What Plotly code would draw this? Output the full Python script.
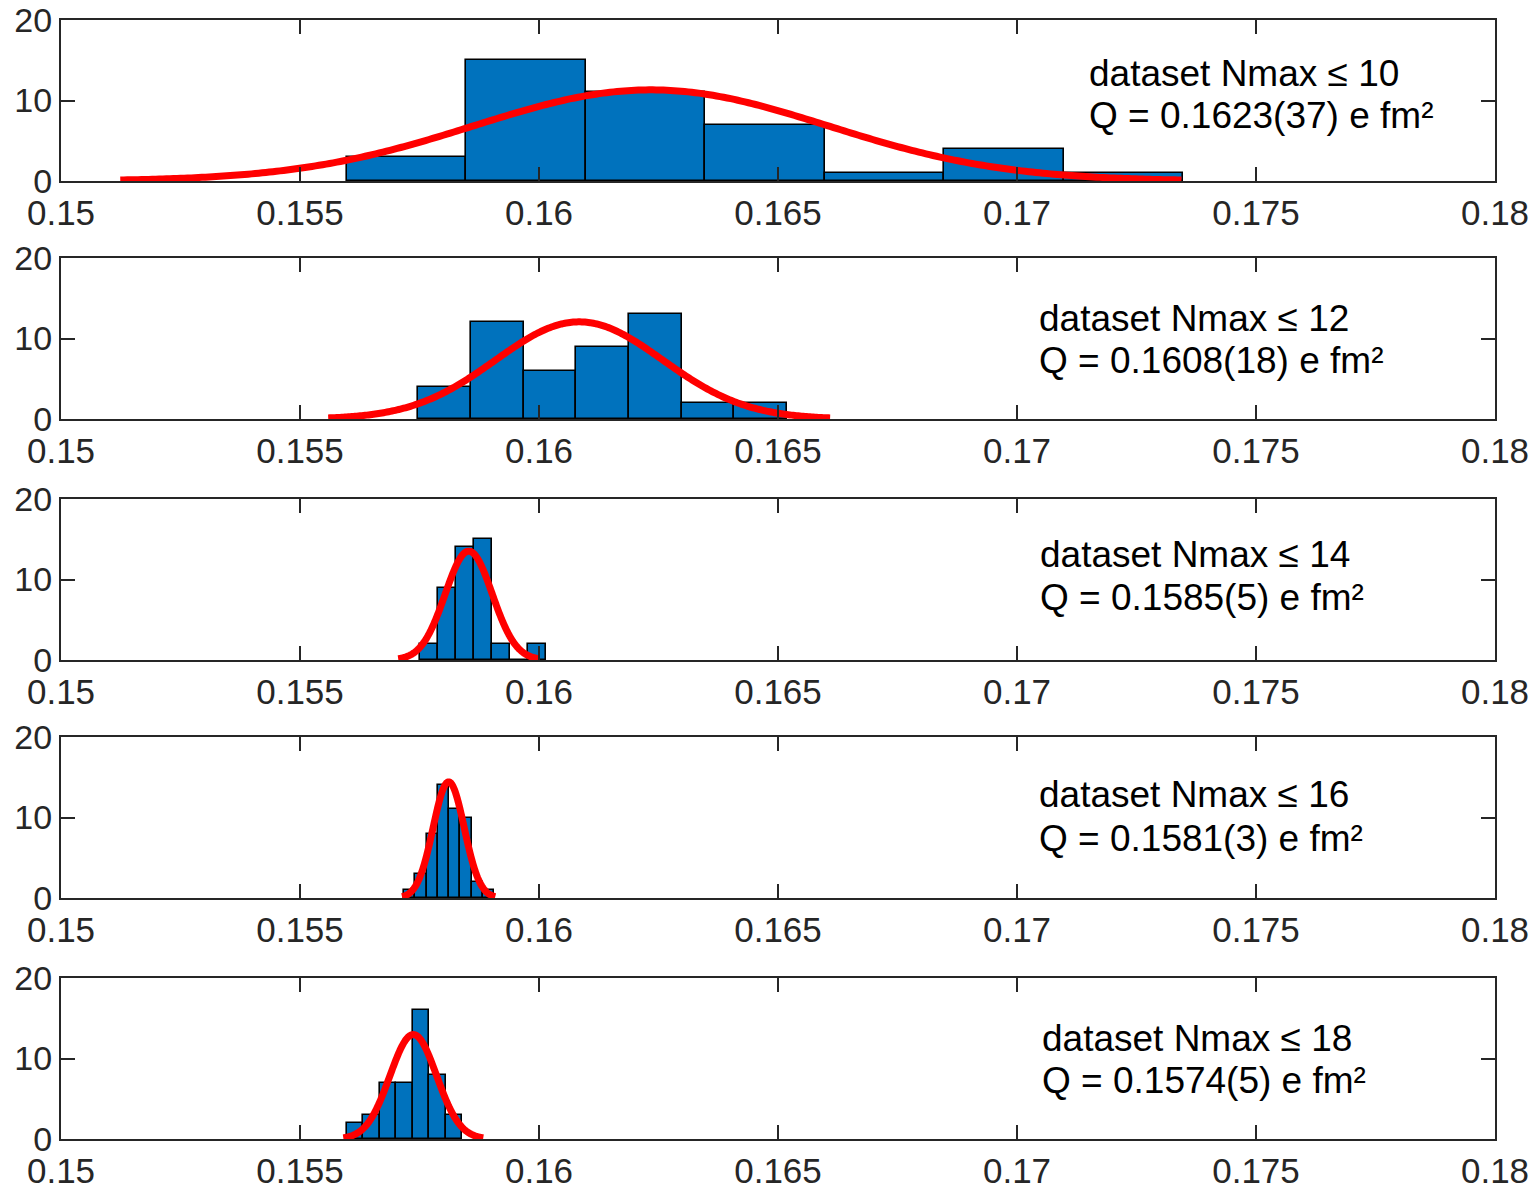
import numpy as np
import plotly.graph_objects as go

# ---------------- data ----------------
labels = ["dataset Nmax \u2264 10", "dataset Nmax \u2264 12", "dataset Nmax \u2264 14",
          "dataset Nmax \u2264 16", "dataset Nmax \u2264 18"]
q_texts = ["Q = 0.1623(37) e fm\u00b2", "Q = 0.1608(18) e fm\u00b2",
           "Q = 0.1585(5) e fm\u00b2", "Q = 0.1581(3) e fm\u00b2",
           "Q = 0.1574(5) e fm\u00b2"]

# first bin edge and bin width of each histogram
first_edge = [0.15598, 0.15747, 0.15750, 0.15718, 0.15598]
bin_width = [0.0025, 0.001103, 0.000379, 0.000235, 0.000345]
counts1 = [3, 15, 11, 7, 1, 4, 1]
counts2 = [4, 12, 6, 9, 13, 2, 2]
counts3 = [2, 9, 14, 15, 2, 0, 2]
counts4 = [1, 3, 8, 14, 11, 10, 2, 1]
counts5 = [2, 3, 7, 7, 16, 8, 3]
counts = [counts1, counts2, counts3, counts4, counts5]

# normal-fit parameters (mean, sigma) of each panel
fit_mu = [0.16234, 0.16084, 0.15853, 0.15811, 0.15737]
fit_sigma = [0.0037, 0.00175, 0.000492, 0.000325, 0.000488]

x_ticks = [0.15, 0.155, 0.16, 0.165, 0.17, 0.175, 0.18]
x_ticktext = ["0.15", "0.155", "0.16", "0.165", "0.17", "0.175", "0.18"]
y_ticks = [0, 10, 20]

# ---------------- layout geometry ----------------
W, H = 1537, 1189
ml, mr, mt, mb = 61, 42, 20, 50
ph = H - mt - mb
panel_px = [(20, 181), (258, 419), (499, 660), (737, 898), (978, 1139)]
text_px = [(1088, 73, 116), (1038, 318, 360), (1039, 554, 597), (1038, 795, 838), (1041, 1038, 1080)]

def py(p):
    return (H - mb - p) / ph

def px(p):
    return (p - ml) / (W - ml - mr)

fig = go.Figure()
axcol = "#262626"
font_family = "Liberation Sans, Arial, Helvetica"
for i in range(5):
    xa = "x" if i == 0 else f"x{i+1}"
    ya = "y" if i == 0 else f"y{i+1}"
    c = counts[i]
    edges = first_edge[i] + bin_width[i] * np.arange(len(c) + 1)
    centers = (edges[:-1] + edges[1:]) / 2
    fig.add_trace(go.Bar(x=centers, y=c, width=bin_width[i], xaxis=xa, yaxis=ya,
                         marker=dict(color="#0072BD", line=dict(color="black", width=1.6)),
                         showlegend=False))
    mu, s = fit_mu[i], fit_sigma[i]
    xs = np.linspace(mu - 3 * s, mu + 3 * s, 300)
    n = sum(c)
    ys = n * bin_width[i] / (s * np.sqrt(2 * np.pi)) * np.exp(-0.5 * ((xs - mu) / s) ** 2)
    fig.add_trace(go.Scatter(x=xs, y=ys, mode="lines", xaxis=xa, yaxis=ya,
                             line=dict(color="#FF0000", width=7, simplify=False),
                             showlegend=False))
    top, bot = panel_px[i]
    key = "" if i == 0 else str(i + 1)
    fig.layout["xaxis" + key] = dict(domain=[0, 1], anchor=ya, range=[0.15, 0.18],
                                    tickvals=x_ticks, ticktext=x_ticktext, automargin=False,
                                    ticks="inside", ticklen=14, tickwidth=1.5, tickcolor=axcol,
                                    showline=True, linecolor=axcol, linewidth=2, mirror="ticks",
                                    showgrid=False, zeroline=False,
                                    tickfont=dict(family=font_family, size=35, color=axcol),
                                    ticklabelstandoff=0)
    fig.layout["yaxis" + key] = dict(domain=[py(bot), py(top)], anchor=xa, range=[0, 20],
                                    tickvals=y_ticks, ticks="inside", ticklen=14, tickwidth=1.5,
                                    tickcolor=axcol, showline=True, linecolor=axcol, linewidth=2,
                                    mirror="ticks", showgrid=False, zeroline=False, automargin=False,
                                    tickfont=dict(family=font_family, size=34, color=axcol),
                                    ticklabelstandoff=0)
    tx, t1, t2 = text_px[i]
    for txt, yy in ((labels[i], t1), (q_texts[i], t2)):
        fig.add_annotation(text=txt, xref="paper", yref="paper", x=px(tx), y=py(yy),
                           xanchor="left", yanchor="middle", showarrow=False,
                           font=dict(family=font_family, size=37, color="black"),
                           bgcolor="white", borderpad=0)

fig.update_layout(width=W, height=H, margin=dict(l=ml, r=mr, t=mt, b=mb, autoexpand=False),
                  paper_bgcolor="white", plot_bgcolor="white", bargap=0)
fig.write_html("out.html")
